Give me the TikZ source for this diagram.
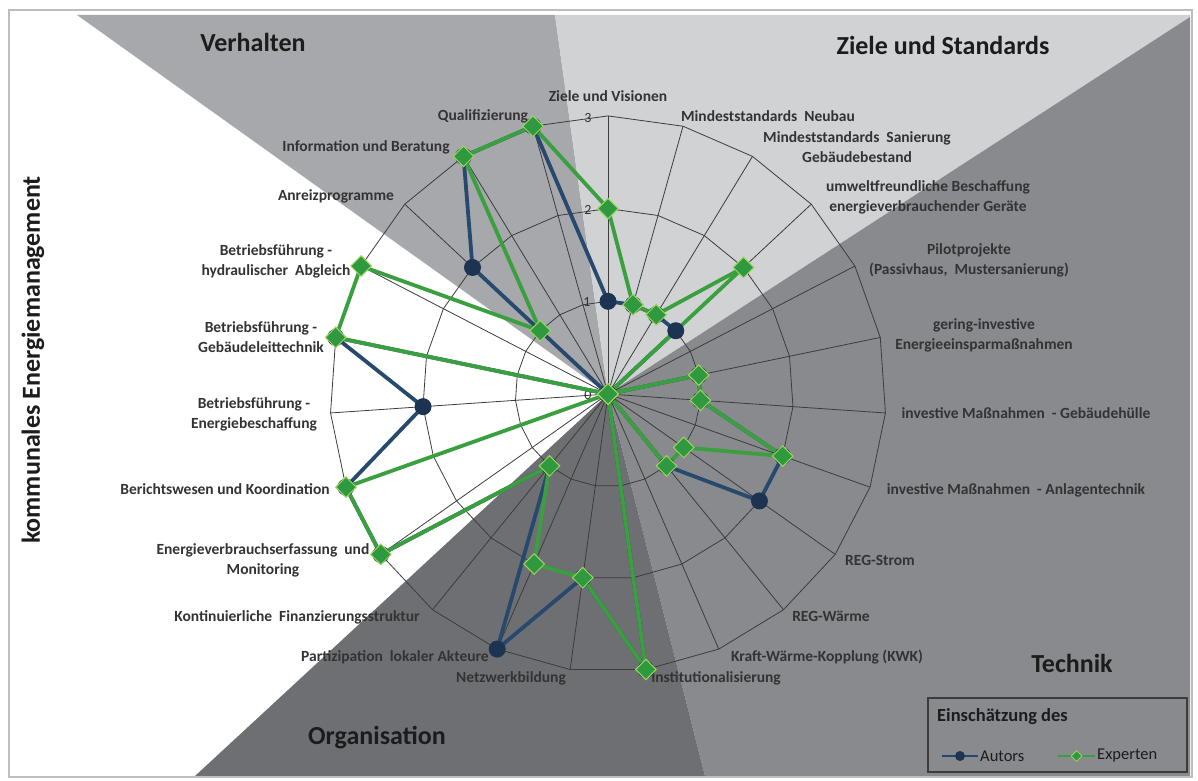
\documentclass[tikz,border=0pt]{standalone}
\usepackage{fontspec}
\setmainfont{Carlito}
\usetikzlibrary{positioning,shapes.geometric}

\definecolor{verhaltengray}{HTML}{A7A8AB}
\definecolor{zielegray}{HTML}{D1D2D4}
\definecolor{technikgray}{HTML}{898A8D}
\definecolor{orggray}{HTML}{6E6F72}
\definecolor{gridgray}{HTML}{3C3C3C}
\definecolor{labeltext}{HTML}{333333}
\definecolor{titletext}{HTML}{1C1C1C}
\definecolor{autorsline}{HTML}{28496E}
\definecolor{autorsdot}{HTML}{1D3352}
\definecolor{expline}{HTML}{3AA03F}
\definecolor{expfill}{HTML}{2F9940}
\definecolor{expedge}{HTML}{9ED45C}
\definecolor{framegray}{HTML}{BDBDBD}

\newcommand{\unitr}{92.7}
\newcommand{\axstep}{15.6522}

\begin{document}
\begin{tikzpicture}
    [
    x=1pt, y=1pt,
    spoke/.style={draw=gridgray,line width=0.8pt},
    axislabel/.style={font=\bfseries\fontsize{15.5}{20}\selectfont,text=labeltext,align=center,inner sep=0pt},
    ticklabel/.style={font=\fontsize{14}{16}\selectfont,text=labeltext,inner sep=0pt},
    grouptitle/.style={font=\bfseries\fontsize{26}{30}\selectfont,text=titletext,inner sep=0pt},
    autors/.style={draw=autorsline,line width=3.8pt,line join=round},
    experten/.style={draw=expline,line width=3.8pt,line join=round},
    autorsmark/.style={circle,fill=autorsdot,inner sep=0pt,minimum size=17pt},
    expmark/.style={diamond,fill=expfill,draw=expedge,line width=1pt,inner sep=0pt,minimum size=21pt},
    legendtext/.style={font=\fontsize{16.5}{19}\selectfont,text=titletext,inner sep=0pt}
    ]
    \useasboundingbox (-608,394) rectangle (590,-386);
    % background sectors
    \begin{scope}
      \clip (-597,379) rectangle (582,-382);
      \fill[verhaltengray] (0,0) -- (-531,379) -- (-53,379) -- cycle;
      \fill[zielegray] (0,0) -- (-53,379) -- (582,379) -- (582,377) -- cycle;
      \fill[technikgray] (0,0) -- (582,377) -- (582,-382) -- (97,-382) -- cycle;
      \fill[orggray] (0,0) -- (97,-382) -- (-413,-382) -- cycle;
    \end{scope}
    \draw[framegray,line width=1.2pt] (-599,384) rectangle (584,-383);

    % grid
    \foreach \r in {1,2,3}
      \draw[spoke] (90:{\r*\unitr}) \foreach \k in {1,...,22}{ -- ({90-\k*\axstep}:{\r*\unitr}) } -- cycle;
    \foreach \k in {0,...,22}
      \draw[spoke] (0,0) -- ({90-\k*\axstep}:{3*\unitr});

    \node (t0) at (-20,-1) [ticklabel] {0};
    \node (t1) at (-21,92) [ticklabel] {1};
    \node (t2) at (-20,184) [ticklabel] {2};
    \node (t3) at (-20,276) [ticklabel] {3};

    % axis labels
    \node (l0) at (0,298) [axislabel] {Ziele und Visionen};
    \node (l1) at (160,278) [axislabel] {Mindeststandards\ \ Neubau};
    \node (l2) at (249,247) [axislabel] {Mindeststandards\ \ Sanierung\\Gebäudebestand};
    \node (l3) at (320,197) [axislabel] {umweltfreundliche Beschaffung\\energieverbrauchender Geräte};
    \node (l4) at (361,134) [axislabel] {Pilotprojekte\\(Passivhaus,\ \ Mustersanierung)};
    \node (l5) at (376,59) [axislabel] {gering-investive\\Energieeinsparmaßnahmen};
    \node (l6) at (418,-19) [axislabel] {investive Maßnahmen\ \ - Gebäudehülle};
    \node (l7) at (408,-96) [axislabel] {investive Maßnahmen\ \ - Anlagentechnik};
    \node (l8) at (272,-166) [axislabel] {REG-Strom};
    \node (l9) at (223,-222) [axislabel] {REG-Wärme};
    \node (l10) at (219,-263) [axislabel] {Kraft-Wärme-Kopplung (KWK)};
    \node (l11) at (108,-284) [axislabel] {Institutionalisierung};
    \node (l12) at (-97,-284) [axislabel] {Netzwerkbildung};
    \node (l13) at (-213,-263) [axislabel] {Partizipation\ \ lokaler Akteure};
    \node (l14) at (-311,-223) [axislabel] {Kontinuierliche\ \ Finanzierungsstruktur};
    \node (l15) at (-345,-166) [axislabel] {Energieverbrauchserfassung\ \ und\\Monitoring};
    \node (l16) at (-383,-95) [axislabel] {Berichtswesen und Koordination};
    \node (l17) at (-354,-20) [axislabel] {Betriebsführung -\\Energiebeschaffung};
    \node (l18) at (-347,57) [axislabel] {Betriebsführung -\\Gebäudeleittechnik};
    \node (l19) at (-332,133) [axislabel] {Betriebsführung -\\hydraulischer\ \ Abgleich};
    \node (l20) at (-272,198) [axislabel] {Anreizprogramme};
    \node (l21) at (-242,247) [axislabel] {Information und Beratung};
    \node (l22) at (-125,278) [axislabel] {Qualifizierung};

    % group titles
    \node (verhalten) at (-355,352) [grouptitle] {Verhalten};
    \node (ziele) at (335,349) [grouptitle] {Ziele und Standards};
    \node (technik) at (464,-269) [grouptitle] {Technik};
    \node (organisation) at (-231,-344) [grouptitle] {Organisation};
    \node (kommunal) at (-575,34) [grouptitle,rotate=90] {kommunales Energiemanagement};

    % data
    \foreach \v [count=\k from 0] in {1,1,1,1,0,1,1,2,2,1,0,3,2,3,1,3,3,2,3,0,2,3,3}
      \coordinate (a\k) at ({90-\k*\axstep}:{\v*\unitr});
    \foreach \v [count=\k from 0] in {2,1,1,2,0,1,1,2,1,1,0,3,2,2,1,3,3,0,3,3,1,3,3}
      \coordinate (e\k) at ({90-\k*\axstep}:{\v*\unitr});
    \draw[autors] (a0) \foreach \k in {1,...,22}{ -- (a\k) } -- cycle;
    \draw[experten] (e0) \foreach \k in {1,...,22}{ -- (e\k) } -- cycle;
    \foreach \k in {0,...,22}
      \node (am\k) at (a\k) [autorsmark] {};
    \foreach \k in {0,...,22}
      \node (em\k) at (e\k) [expmark] {};

    % legend
    \node (legendbox) at (449.5,-341) [draw=gridgray,line width=1.2pt,minimum width=259pt,minimum height=74pt] {};
    \node (legendtitle) at (329,-323) [anchor=west,legendtext,font=\bfseries\fontsize{18.5}{21}\selectfont] {Einschätzung des};
    \coordinate (la1) at (334,-362);
    \coordinate (la2) at (370,-362);
    \coordinate (le1) at (450,-362);
    \coordinate (le2) at (487,-362);
    \draw[draw=autorsline,line width=2.5pt] (la1) -- (la2);
    \draw[draw=expline,line width=2.5pt] (le1) -- (le2);
    \node (lam) at (352,-362) [circle,fill=autorsdot,inner sep=0pt,minimum size=10pt] {};
    \node (lem) at (468.5,-362) [diamond,fill=expfill,draw=expedge,line width=0.8pt,inner sep=0pt,minimum size=11pt] {};
    \node (lat) [right=2pt of la2,legendtext] {Autors};
    \node (let) [right=2pt of le2,legendtext] {Experten};
\end{tikzpicture}
\end{document}
